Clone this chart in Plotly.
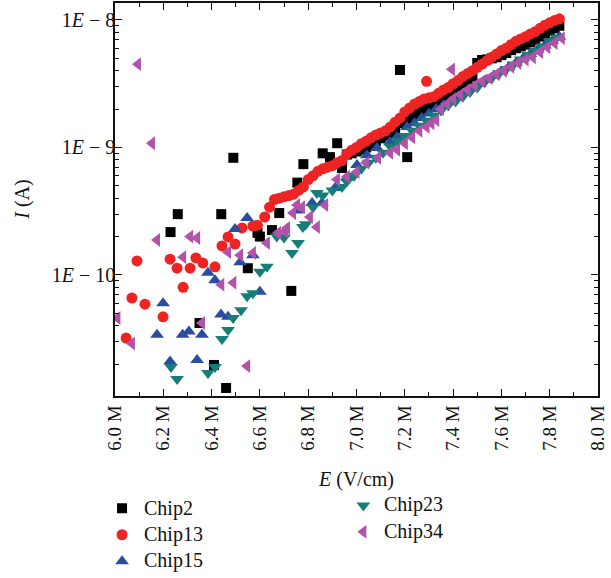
import numpy as np
import plotly.graph_objects as go

# E in MV/cm, I in A
e_chip2 = [6.23, 6.26, 6.44, 6.49, 6.35, 6.41, 6.46, 6.55, 6.59, 6.60, 6.65, 6.68, 6.73, 6.755, 6.78,
           6.86, 6.89, 6.92, 6.94, 7.18, 7.21,
           6.96, 6.98, 7.00, 7.02, 7.04, 7.06, 7.08, 7.10, 7.12, 7.14, 7.16, 7.20, 7.22, 7.24, 7.26,
           7.28, 7.30, 7.32, 7.34, 7.36, 7.38, 7.40, 7.42, 7.44, 7.46, 7.48, 7.50, 7.52, 7.54, 7.56,
           7.58, 7.60, 7.62, 7.64, 7.66, 7.68, 7.70, 7.72, 7.74, 7.76, 7.78, 7.80, 7.82, 7.84]
i_chip2 = [2.17e-10, 3.0e-10, 3.0e-10, 8.3e-10, 4.2e-11, 1.97e-11, 1.3e-11, 1.13e-10, 2.14e-10, 2.0e-10,
           2.25e-10, 3.06e-10, 7.5e-11, 5.3e-10, 7.4e-10, 9.0e-10, 8.4e-10, 1.08e-9, 6.9e-10, 4.05e-9, 8.4e-10,
           8.8e-10, 9.0e-10, 9.3e-10, 9.6e-10, 1.0e-9, 1.06e-9, 1.12e-9, 1.18e-9, 1.24e-9, 1.3e-9, 1.38e-9,
           1.55e-9, 1.68e-9, 1.78e-9, 1.88e-9, 2.0e-9, 2.1e-9, 2.2e-9, 2.35e-9, 2.5e-9, 2.65e-9, 2.8e-9,
           3.0e-9, 3.2e-9, 3.4e-9, 3.6e-9, 4.6e-9, 4.85e-9, 4.9e-9, 5.0e-9, 5.1e-9, 5.3e-9, 5.5e-9, 5.8e-9,
           6.0e-9, 6.2e-9, 6.4e-9, 6.7e-9, 7.0e-9, 7.4e-9, 7.8e-9, 8.2e-9, 8.6e-9, 9.0e-9]

e_chip13 = [6.046, 6.07, 6.124, 6.199, 6.091, 6.228, 6.257, 6.311, 6.282, 6.335, 6.364, 6.414, 6.443,
            6.468, 6.497, 6.526, 6.571, 6.59, 7.29,
            6.62, 6.64, 6.66, 6.68, 6.70, 6.72, 6.74, 6.76, 6.78, 6.80, 6.82, 6.84, 6.86, 6.88, 6.90,
            6.92, 6.94, 6.96, 6.98, 7.00, 7.02, 7.04, 7.06, 7.08, 7.10, 7.12, 7.14, 7.16, 7.18, 7.20,
            7.22, 7.24, 7.26, 7.28, 7.30, 7.32, 7.34, 7.36, 7.38, 7.40, 7.42, 7.44, 7.46, 7.48, 7.50,
            7.52, 7.54, 7.56, 7.58, 7.60, 7.62, 7.64, 7.66, 7.68, 7.70, 7.72, 7.74, 7.76, 7.78, 7.80,
            7.82, 7.84]
i_chip13 = [3.2e-11, 6.6e-11, 5.9e-11, 4.7e-11, 1.29e-10, 1.33e-10, 1.13e-10, 1.13e-10, 8.0e-11, 1.36e-10,
            1.24e-10, 1.16e-10, 1.69e-10, 1.99e-10, 1.75e-10, 2.34e-10, 2.42e-10, 2.45e-10, 3.3e-9,
            2.85e-10, 3.4e-10, 3.9e-10, 4.0e-10, 4.1e-10, 4.2e-10, 4.3e-10, 4.6e-10, 4.9e-10, 5.6e-10,
            6.0e-10, 6.5e-10, 6.8e-10, 7.0e-10, 7.2e-10, 7.6e-10, 7.9e-10, 8.9e-10, 9.5e-10, 1.0e-9,
            1.07e-9, 1.12e-9, 1.19e-9, 1.25e-9, 1.30e-9, 1.35e-9, 1.45e-9, 1.58e-9, 1.70e-9, 1.9e-9,
            2.04e-9, 2.19e-9, 2.29e-9, 2.4e-9, 2.45e-9, 2.5e-9, 2.66e-9, 2.82e-9, 2.95e-9, 3.16e-9,
            3.35e-9, 3.6e-9, 3.8e-9, 4.0e-9, 4.25e-9, 4.5e-9, 4.8e-9, 5.1e-9, 5.4e-9, 5.75e-9, 6.0e-9,
            6.4e-9, 6.8e-9, 7.1e-9, 7.4e-9, 7.75e-9, 8.1e-9, 8.6e-9, 9.1e-9, 9.5e-9, 9.9e-9, 1.02e-8]

e_chip15 = [6.199, 6.174, 6.228, 6.28, 6.306, 6.34, 6.36, 6.385, 6.414, 6.439, 6.468, 6.547, 6.497,
            6.60, 6.518, 6.571,
            6.754, 6.816, 6.857, 6.911, 6.961, 7.002, 7.043, 7.085, 7.139, 7.168, 7.209, 7.24, 7.27,
            7.30, 7.33, 7.36, 7.39, 7.42, 7.45, 7.48, 7.51, 7.54, 7.57, 7.60, 7.63, 7.66, 7.69, 7.72,
            7.75, 7.78, 7.81, 7.84]
i_chip15 = [6.0e-11, 3.4e-11, 2.1e-11, 3.4e-11, 3.6e-11, 2.15e-11, 3.4e-11, 1.04e-10, 9.1e-11, 4.9e-11,
            4.7e-11, 2.8e-10, 2.29e-10, 7.4e-11, 1.26e-10, 1.43e-10,
            3.2e-10, 3.67e-10, 3.67e-10, 4.8e-10, 5.8e-10, 7.3e-10, 8.7e-10, 9.9e-10, 1.1e-9, 1.21e-9,
            1.45e-9, 1.55e-9, 1.7e-9, 1.85e-9, 2.0e-9, 2.15e-9, 2.3e-9, 2.5e-9, 2.7e-9, 2.9e-9, 3.15e-9,
            3.4e-9, 3.65e-9, 3.95e-9, 4.25e-9, 4.6e-9, 5.0e-9, 5.4e-9, 5.85e-9, 6.3e-9, 6.85e-9, 7.4e-9]

e_chip23 = [6.232, 6.257, 6.385, 6.414, 6.443, 6.468, 6.489, 6.522, 6.547, 6.571, 6.60, 6.629, 6.67,
            6.70, 6.733, 6.758, 6.778, 6.79, 6.82, 6.836, 6.86, 6.90, 6.94, 6.96,
            6.99, 7.02, 7.05, 7.08, 7.11, 7.14, 7.17, 7.20, 7.23, 7.26, 7.29, 7.32, 7.35, 7.38, 7.41,
            7.44, 7.47, 7.50, 7.53, 7.56, 7.59, 7.62, 7.65, 7.68, 7.71, 7.74, 7.77, 7.80, 7.83]
i_chip23 = [1.9e-11, 1.53e-11, 1.7e-11, 1.9e-11, 3.15e-11, 3.7e-11, 4.6e-11, 5.3e-11, 6.8e-11, 7.2e-11,
            1.06e-10, 1.16e-10, 2.0e-10, 1.97e-10, 1.49e-10, 1.78e-10, 2.38e-10, 2.5e-10, 3.4e-10, 4.4e-10,
            4.2e-10, 4.6e-10, 4.9e-10, 5.4e-10,
            6.0e-10, 6.8e-10, 7.6e-10, 8.3e-10, 9.1e-10, 1.02e-9, 1.12e-9, 1.23e-9, 1.35e-9, 1.48e-9,
            1.62e-9, 1.78e-9, 1.95e-9, 2.14e-9, 2.29e-9, 2.5e-9, 2.72e-9, 2.95e-9, 3.24e-9, 3.5e-9,
            3.8e-9, 4.1e-9, 4.47e-9, 4.9e-9, 5.3e-9, 5.75e-9, 6.2e-9, 6.8e-9, 7.3e-9]

e_chip34 = [6.095, 6.153, 6.174, 6.311, 6.34, 6.282, 6.01, 6.07, 6.36, 6.44, 6.49, 6.547, 6.468, 6.518,
            6.571, 7.395,
            6.629, 6.675, 6.704, 6.712, 6.737, 6.754, 6.774, 6.807, 6.836, 6.87, 6.919, 6.96, 7.00,
            7.04, 7.089, 7.139, 7.168, 7.20, 7.23, 7.26, 7.29, 7.31, 7.33, 7.35, 7.375, 7.40, 7.43,
            7.46, 7.49, 7.52, 7.55, 7.58, 7.61, 7.64, 7.67, 7.70, 7.73, 7.76, 7.79, 7.82, 7.85]
i_chip34 = [4.5e-9, 1.08e-9, 1.88e-10, 2.0e-10, 1.95e-10, 1.38e-10, 4.6e-11, 2.9e-11, 4.2e-11, 8.4e-11,
            8.7e-11, 1.93e-11, 1.51e-10, 1.43e-10, 1.49e-10, 4.1e-9,
            1.78e-10, 2.14e-10, 2.2e-10, 2.34e-10, 3.06e-10, 3.54e-10, 3.4e-10, 2.85e-10, 2.38e-10,
            3.54e-10, 5.6e-10, 5.9e-10, 6.4e-10, 7.6e-10, 8.3e-10, 9.1e-10, 9.6e-10, 1.08e-9, 1.2e-9,
            1.35e-9, 1.45e-9, 1.55e-9, 1.64e-9, 2.0e-9, 2.2e-9, 2.4e-9, 2.6e-9, 2.83e-9, 3.05e-9, 3.3e-9,
            3.5e-9, 3.75e-9, 4.0e-9, 4.3e-9, 4.6e-9, 4.9e-9, 5.1e-9, 5.6e-9, 6.1e-9, 6.6e-9, 7.2e-9]

x_ticks = [6.0, 6.2, 6.4, 6.6, 6.8, 7.0, 7.2, 7.4, 7.6, 7.8, 8.0]
x_ticktext = ["6.0 M", "6.2 M", "6.4 M", "6.6 M", "6.8 M", "7.0 M", "7.2 M", "7.4 M", "7.6 M", "7.8 M", "8.0 M"]
y_ticks = [1e-10, 1e-9, 1e-8]
y_ticktext = ["1<i>E</i> − 10", "1<i>E</i> − 9", "1<i>E</i> − 8"]

serif = "Liberation Serif"

# name, x, y, symbol, colour, size, legend, label position (paper coords)
series = [
    ("Chip2", e_chip2, i_chip2, "square", "#000000", 10, "legend", 0.056, -0.285),
    ("Chip13", e_chip13, i_chip13, "circle", "#ee2424", 11, "legend", 0.056, -0.353),
    ("Chip15", e_chip15, i_chip15, "triangle-up", "#2b4c9f", 12, "legend", 0.056, -0.419),
    ("Chip23", e_chip23, i_chip23, "triangle-down", "#177d79", 12, "legend2", 0.553, -0.277),
    ("Chip34", e_chip34, i_chip34, "triangle-left", "#b252a8", 12, "legend2", 0.553, -0.345),
]

fig = go.Figure()
labels = []
for name, ex, iy, sym, col, sz, leg, lx, ly in series:
    # legend keeps only the marker; the label is an annotation so it keeps the serif face
    fig.add_trace(go.Scatter(
        x=np.array(ex) * 1e6, y=iy, mode="markers", legend=leg, name=" ", meta=name,
        hovertemplate=name + "<extra></extra>",
        marker=dict(symbol=sym, color=col, size=sz, line=dict(width=0)),
    ))
    labels.append(dict(text=name, xref="paper", yref="paper", x=lx, y=ly, xanchor="left",
                       yanchor="middle", showarrow=False, font=dict(family=serif, size=20, color="#111")))

minor_y = [k * 10.0 ** p for p in (-11, -10, -9, -8) for k in range(2, 10)]
leg_font = dict(family=serif, size=18, color="#111")

fig.update_layout(
    template="none",
    width=611, height=578,
    margin=dict(l=115, r=13, t=3, b=182, autoexpand=False),
    paper_bgcolor="white", plot_bgcolor="white",
    font=dict(family=serif, size=19, color="#111"),
    legend=dict(x=0.167, y=0.152, xref="container", yref="container", xanchor="left", yanchor="top",
                font=leg_font, itemwidth=30, tracegroupgap=0, bgcolor="rgba(0,0,0,0)"),
    legend2=dict(x=0.562, y=0.157, xref="container", yref="container", xanchor="left", yanchor="top",
                 font=leg_font, itemwidth=30, tracegroupgap=0, bgcolor="rgba(0,0,0,0)"),
    annotations=[dict(text="<i>I</i> (A)", textangle=-90, xref="paper", yref="paper",
                      x=-0.192, y=0.5, xanchor="center", yanchor="middle", showarrow=False,
                      font=dict(family=serif, size=20, color="#111"))] + labels,
)

fig.update_xaxes(
    range=[6.0e6, 8.0e6], tickmode="array", tickvals=[v * 1e6 for v in x_ticks], ticktext=x_ticktext,
    tickangle=-90, ticks="inside", ticklen=7, tickwidth=1.2, tickcolor="#111",
    tickfont=dict(family=serif, size=19),
    showline=True, linecolor="#111", linewidth=1.5, mirror="ticks", showgrid=False, zeroline=False,
    minor=dict(ticks="inside", ticklen=4, tickwidth=1, tickcolor="#111", dtick=1e5, tick0=6e6, showgrid=False),
    title=dict(text="<i>E</i> (V/cm)", font=dict(family=serif, size=20), standoff=22),
)
fig.update_yaxes(
    type="log", range=[-10.949, -7.867], tickmode="array", tickvals=y_ticks, ticktext=y_ticktext,
    ticks="inside", ticklen=7, tickwidth=1.2, tickcolor="#111",
    tickfont=dict(family=serif, size=20), ticklabelstandoff=-6,
    showline=True, linecolor="#111", linewidth=1.5, mirror="ticks", showgrid=False, zeroline=False,
    minor=dict(ticks="inside", ticklen=4, tickwidth=1, tickcolor="#111", tickmode="array",
               tickvals=minor_y, showgrid=False),
)

fig.write_html("out.html", config={"displayModeBar": False},
               post_script="document.body.style.margin='0';")
